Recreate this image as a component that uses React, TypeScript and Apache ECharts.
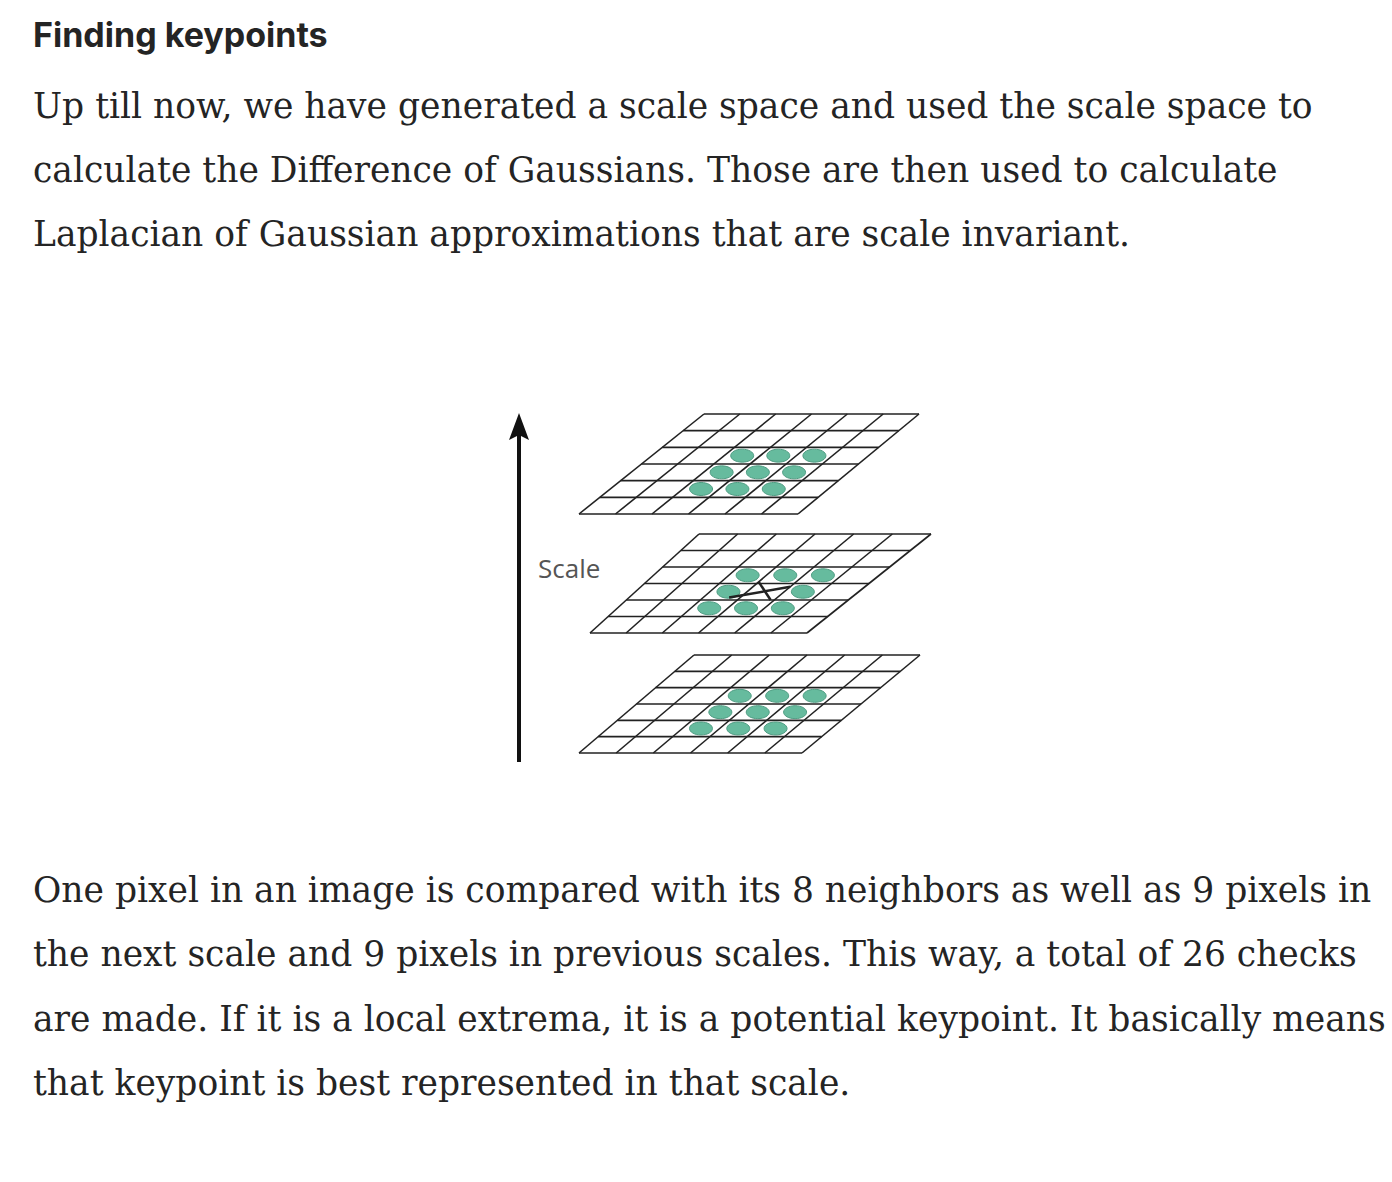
import React, { useEffect, useRef } from "react";
import * as echarts from "echarts";

const title = "Finding keypoints";
const introLines = [
  "Up till now, we have generated a scale space and used the scale space to",
  "calculate the Difference of Gaussians. Those are then used to calculate",
  "Laplacian of Gaussian approximations that are scale invariant.",
];
const outroLines = [
  "One pixel in an image is compared with its 8 neighbors as well as 9 pixels in",
  "the next scale and 9 pixels in previous scales. This way, a total of 26 checks",
  "are made. If it is a local extrema, it is a potential keypoint. It basically means",
  "that keypoint is best represented in that scale.",
];
const axisLabel = "Scale";

// corners of each layer: [TL, TR, BL, BR]
const layerCorners = [
  [[704, 414], [919, 414], [579, 514], [798, 514]],
  [[699, 534], [931, 534], [590, 633], [807, 633]],
  [[694, 655], [920, 655], [579, 753], [802, 753]],
];
const gridSize = 6;
// neighbour cells [layer, col, row]; centre of the middle layer is the candidate
const neighbourCols = [2, 3, 4];
const neighbourRows = [2, 3, 4];
const candidate = [1, 3, 3];
const arrowX = 519;
const arrowTop = 413;
const arrowBottom = 762;

const lerp = (a: number[], b: number[], t: number) => [a[0] + (b[0] - a[0]) * t, a[1] + (b[1] - a[1]) * t];
const mapPt = (layer: number, u: number, v: number) => {
  const [tl, tr, bl, br] = layerCorners[layer];
  const top = lerp(tl, tr, u / gridSize);
  const bot = lerp(bl, br, u / gridSize);
  return lerp(top, bot, v / gridSize);
};

const lineData: number[][] = [];
layerCorners.forEach((_, l) => {
  for (let i = 0; i <= gridSize; i++) {
    lineData.push([l, 0, i]);
    lineData.push([l, 1, i]);
  }
});
const dotData: number[][] = [];
layerCorners.forEach((_, l) => {
  neighbourRows.forEach((r) =>
    neighbourCols.forEach((c) => {
      if (!(l === candidate[0] && c === candidate[1] && r === candidate[2])) dotData.push([l, c, r]);
    })
  );
});

const serif = "'DejaVu Serif', serif";
const ink = "#242424";

const App = () => {
  const ref = useRef<HTMLDivElement>(null);

  useEffect(() => {
    document.body.style.margin = "0";
    if (!ref.current) return;
    const chart = echarts.init(ref.current, null, { renderer: "svg" });
    const texts: any[] = [
      { type: "text", left: 33, top: 17, style: { text: title, font: "700 34px Inter", fill: ink } },
      ...introLines.map((t, i) => ({
        type: "text",
        left: 33,
        top: 88 + i * 64,
        style: { text: t, font: `34.5px ${serif}`, fill: ink },
      })),
      ...outroLines.map((t, i) => ({
        type: "text",
        left: 33,
        top: 872 + i * 64.5,
        style: { text: t, font: `34.5px ${serif}`, fill: ink },
      })),
      {
        type: "text",
        left: 538,
        top: 555,
        style: { text: axisLabel, font: "26px 'Open Sans'", fill: "#555" },
      },
    ];
    chart.setOption({
      animation: false,
      grid: { left: 0, right: 0, top: 0, bottom: 0 },
      xAxis: { type: "value", min: 0, max: 1392, show: false },
      yAxis: { type: "value", min: 0, max: 1182, inverse: true, show: false },
      graphic: texts,
      series: [
        {
          type: "custom",
          data: lineData,
          renderItem: (params: any, api: any) => {
            const l = api.value(0), kind = api.value(1), i = api.value(2);
            const a = kind === 0 ? mapPt(l, 0, i) : mapPt(l, i, 0);
            const b = kind === 0 ? mapPt(l, gridSize, i) : mapPt(l, i, gridSize);
            const p1 = api.coord(a), p2 = api.coord(b);
            return {
              type: "line",
              shape: { x1: p1[0], y1: p1[1], x2: p2[0], y2: p2[1] },
              style: { stroke: "#222", lineWidth: 1.6 },
            };
          },
        },
        {
          type: "custom",
          data: dotData,
          renderItem: (params: any, api: any) => {
            const c = api.coord(mapPt(api.value(0), api.value(1) + 0.5, api.value(2) + 0.5));
            return {
              type: "ellipse",
              shape: { cx: c[0], cy: c[1], rx: 11.5, ry: 6.5 },
              style: { fill: "#66bb9e", stroke: "#4f9c82", lineWidth: 1 },
            };
          },
        },
        {
          type: "custom",
          data: [candidate],
          renderItem: (params: any, api: any) => {
            const l = api.value(0), u = api.value(1), v = api.value(2);
            const a = api.coord(mapPt(l, u - 0.3, v + 0.85));
            const b = api.coord(mapPt(l, u + 1.0, v + 0.2));
            const c = api.coord(mapPt(l, u + 0.0, v - 0.1));
            const d = api.coord(mapPt(l, u + 0.9, v + 1.0));
            const st = { stroke: "#222", lineWidth: 2.5 };
            return {
              type: "group",
              children: [
                { type: "line", shape: { x1: a[0], y1: a[1], x2: b[0], y2: b[1] }, style: st },
                { type: "line", shape: { x1: c[0], y1: c[1], x2: d[0], y2: d[1] }, style: st },
              ],
            };
          },
        },
        {
          type: "custom",
          data: [[arrowX, arrowTop, arrowBottom]],
          renderItem: (params: any, api: any) => {
            const top = api.coord([api.value(0), api.value(1)]);
            const bot = api.coord([api.value(0), api.value(2)]);
            return {
              type: "group",
              children: [
                {
                  type: "line",
                  shape: { x1: bot[0], y1: bot[1], x2: top[0], y2: top[1] + 20 },
                  style: { stroke: "#111", lineWidth: 4 },
                },
                {
                  type: "polygon",
                  shape: { points: [[top[0], top[1]], [top[0] - 10, top[1] + 27], [top[0], top[1] + 22], [top[0] + 10, top[1] + 27]] },
                  style: { fill: "#111" },
                },
              ],
            };
          },
        },
      ],
    });
    return () => chart.dispose();
  }, []);

  return <div ref={ref} style={{ width: 1392, height: 1182 }} />;
};

export default App;
